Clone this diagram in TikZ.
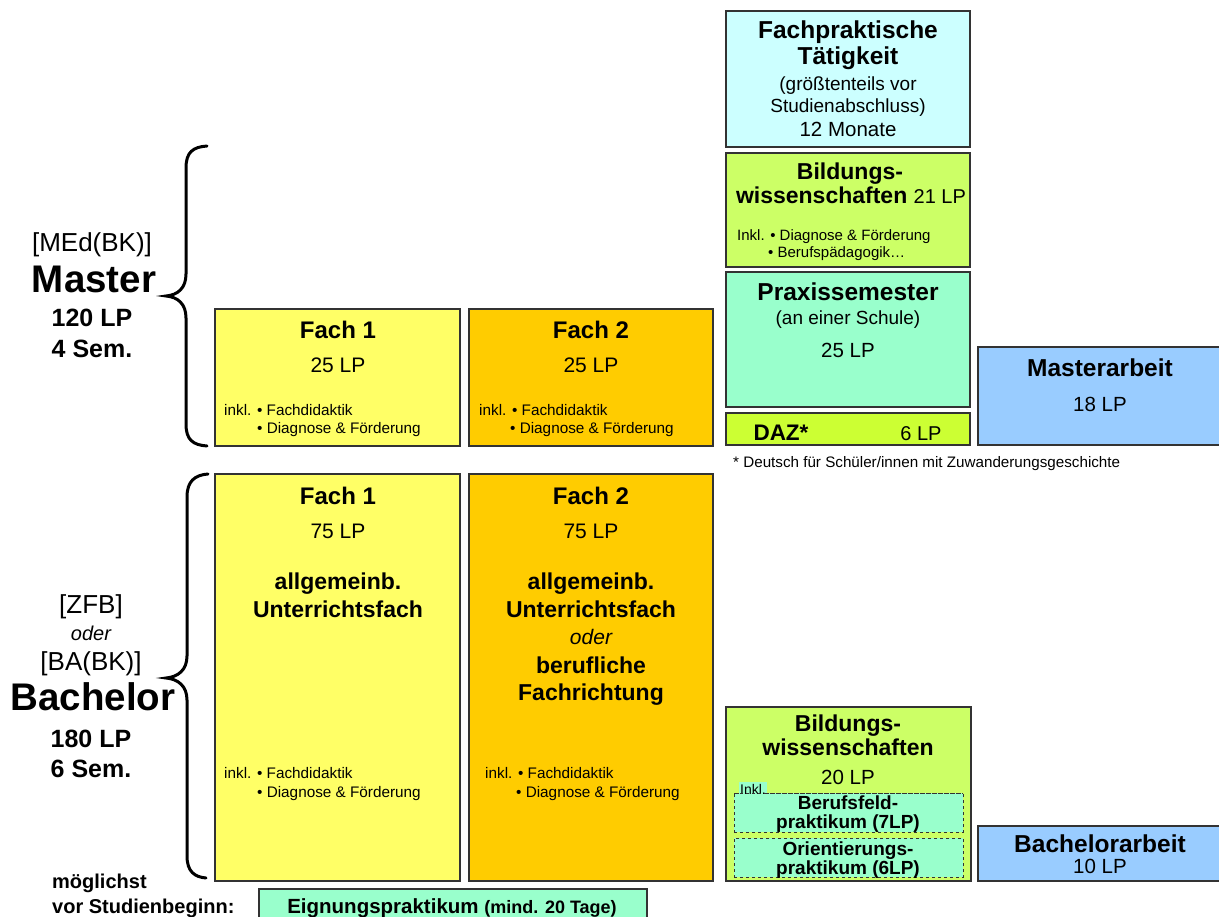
\documentclass[tikz,border=0pt]{standalone}
\usepackage{fontspec}
\setmainfont{Liberation Sans}
\newcommand\myfs[1]{\fontsize{#1}{#1}\selectfont}
\definecolor{cfach}{HTML}{CCFFFF}
\definecolor{cbild}{HTML}{CCFF66}
\definecolor{cprax}{HTML}{99FFCC}
\definecolor{cdaz}{HTML}{CCFF33}
\definecolor{carb}{HTML}{99CCFF}
\definecolor{cf1}{HTML}{FFFF66}
\definecolor{cf2}{HTML}{FFCC00}
\definecolor{cline}{HTML}{333333}
\tikzset{
  box/.style={draw=cline, line width=1.3pt, inner sep=0pt, outer sep=0pt, anchor=north west},
  dbox/.style={draw=cline, line width=0.9pt, dashed, inner sep=0pt, outer sep=0pt, anchor=north west, fill=cprax},
  tx/.style={anchor=base, inner sep=0pt},
  tl/.style={anchor=base west, inner sep=0pt},
  bracestyle/.style={line width=3pt, line cap=round},
}
\begin{document}
\begin{tikzpicture}[x=1pt,y=-1pt]
\useasboundingbox (0,0) rectangle (1219,917);
% ---------- boxes ----------
\node[box, fill=cfach, minimum width=244, minimum height=136] (fpt) at (726,11) {};
\node[box, fill=cbild, minimum width=244, minimum height=114] (bw1) at (726,153) {};
\node[box, fill=cprax, minimum width=244, minimum height=135] (prax) at (726,272) {};
\node[box, fill=cdaz, minimum width=244, minimum height=32] (daz) at (726,413) {};
\node[box, fill=carb, minimum width=250, minimum height=98] (ma) at (978,347) {};
\node[box, fill=cf1, minimum width=245, minimum height=137] (mf1) at (215,309) {};
\node[box, fill=cf2, minimum width=244, minimum height=137] (mf2) at (469,309) {};
\node[box, fill=cf1, minimum width=245, minimum height=407] (bf1) at (215,474) {};
\node[box, fill=cf2, minimum width=244, minimum height=407] (bf2) at (469,474) {};
\node[box, fill=cbild, minimum width=245, minimum height=174] (bw2) at (726,707) {};
\node[dbox, minimum width=229, minimum height=39] (bfp) at (734,793) {};
\node[dbox, minimum width=229, minimum height=39] (orp) at (734,838) {};
\node[box, fill=carb, minimum width=250, minimum height=55] (ba) at (978,826) {};
\node[box, fill=cprax, minimum width=388, minimum height=40] (eig) at (259,889) {};
% ---------- braces ----------
\draw[bracestyle] (207,146) .. controls (193,147) and (186,152) .. (186,168) -- (186,274)
  .. controls (186,288) and (178,295) .. (166,296) .. controls (178,297) and (186,304) .. (186,318)
  -- (186,424) .. controls (186,440) and (193,445) .. (207,446);
\draw[bracestyle] (208,474) .. controls (195,475) and (187,481) .. (187,497) -- (187,656)
  .. controls (187,670) and (178,677) .. (166,678) .. controls (178,679) and (187,686) .. (187,700)
  -- (187,856) .. controls (187,872) and (195,877) .. (206,878);
% ---------- left labels ----------
\node[tx] (medbk) at (92,252) {\myfs{26}[MEd(BK)]};
\node[tx] (master) at (94,293) {\myfs{38.5}\bfseries Master};
\node[tx] (m120) at (92,327) {\myfs{25}\bfseries 120 LP};
\node[tx] (m4) at (92,358) {\myfs{25}\bfseries 4 Sem.};
\node[tx] (zfb) at (91,613) {\myfs{26}[ZFB]};
\node[tx] (oder) at (91,640) {\myfs{20}\itshape oder};
\node[tx] (babk) at (91,670) {\myfs{26}[BA(BK)]};
\node[tx] (bach) at (93,710) {\myfs{38.5}\bfseries Bachelor};
\node[tx] (b180) at (91,747) {\myfs{25}\bfseries 180 LP};
\node[tx] (b6) at (91,777) {\myfs{25}\bfseries 6 Sem.};
\node[tl] (mogl) at (52,888) {\myfs{20}\bfseries möglichst};
\node[tl] (vor) at (52,913) {\myfs{20}\bfseries vor Studienbeginn:};
% ---------- Fachpraktische Taetigkeit ----------
\node[tx] (fpt1) at (848,39) {\myfs{24.5}\bfseries Fachpraktische};
\node[tx] (fpt2) at (848,65) {\myfs{24.5}\bfseries Tätigkeit};
\node[tx] (fpt3) at (848,91) {\myfs{19}(größtenteils vor};
\node[tx] (fpt4) at (848,113) {\myfs{19}Studienabschluss)};
\node[tx] (fpt5) at (848,137) {\myfs{20.5}12 Monate};
% ---------- Bildungswissenschaften 21 ----------
\node[tx] (bw1a) at (850,180) {\myfs{23}\bfseries Bildungs-};
\node[tx] (bw1b) at (851,204) {\myfs{23}\bfseries wissenschaften \mdseries\myfs{20}21 LP};
\node[tl] (bw1c) at (737,241) {\myfs{15}Inkl. • Diagnose \& Förderung};
\node[tl] (bw1d) at (768,258) {\myfs{15}• Berufspädagogik…};
% ---------- Praxissemester ----------
\node[tx] (prx1) at (848,301) {\myfs{24.5}\bfseries Praxissemester};
\node[tx] (prx2) at (848,325) {\myfs{19}(an einer Schule)};
\node[tx] (prx3) at (848,358) {\myfs{20.5}25 LP};
% ---------- DAZ ----------
\node[tx] (daz1) at (781,440) {\myfs{22.5}\bfseries DAZ*};
\node[tx] (daz2) at (921,440) {\myfs{20}6 LP};
\node[tl] (fn) at (733,467) {\myfs{15.2}* Deutsch für Schüler/innen mit Zuwanderungsgeschichte};
% ---------- Masterarbeit ----------
\node[tx] (ma1) at (1100,377) {\myfs{24.5}\bfseries Masterarbeit};
\node[tx] (ma2) at (1100,411) {\myfs{20.5}18 LP};
% ---------- Master Fach 1 / 2 ----------
\node[tx] (mf1a) at (338,339) {\myfs{24}\bfseries Fach 1};
\node[tx] (mf1b) at (338,373) {\myfs{21}25 LP};
\node[tl] (mf1c) at (224,415) {\myfs{15.3}inkl. • Fachdidaktik};
\node[tl] (mf1d) at (257,434) {\myfs{15.3}• Diagnose \& Förderung};
\node[tx] (mf2a) at (591,339) {\myfs{24}\bfseries Fach 2};
\node[tx] (mf2b) at (591,373) {\myfs{21}25 LP};
\node[tl] (mf2c) at (479,415) {\myfs{15.3}inkl. • Fachdidaktik};
\node[tl] (mf2d) at (510,434) {\myfs{15.3}• Diagnose \& Förderung};
% ---------- Bachelor Fach 1 / 2 ----------
\node[tx] (bf1a) at (338,504) {\myfs{24}\bfseries Fach 1};
\node[tx] (bf1b) at (338,538) {\myfs{21}75 LP};
\node[tx] (bf1c) at (338,589) {\myfs{23}\bfseries allgemeinb.};
\node[tx] (bf1d) at (338,617) {\myfs{23}\bfseries Unterrichtsfach};
\node[tl] (bf1e) at (224,778) {\myfs{15.3}inkl. • Fachdidaktik};
\node[tl] (bf1f) at (257,797) {\myfs{15.3}• Diagnose \& Förderung};
\node[tx] (bf2a) at (591,504) {\myfs{24}\bfseries Fach 2};
\node[tx] (bf2b) at (591,538) {\myfs{21}75 LP};
\node[tx] (bf2c) at (591,589) {\myfs{23}\bfseries allgemeinb.};
\node[tx] (bf2d) at (591,617) {\myfs{23}\bfseries Unterrichtsfach};
\node[tx] (bf2e) at (591,644) {\myfs{21}\itshape oder};
\node[tx] (bf2f) at (591,673) {\myfs{23}\bfseries berufliche};
\node[tx] (bf2g) at (591,700) {\myfs{23}\bfseries Fachrichtung};
\node[tl] (bf2h) at (485,778) {\myfs{15.3}inkl. • Fachdidaktik};
\node[tl] (bf2i) at (516,797) {\myfs{15.3}• Diagnose \& Förderung};
% ---------- Bildungswissenschaften 20 ----------
\node[tx] (bw2a) at (848,731) {\myfs{23}\bfseries Bildungs-};
\node[tx] (bw2b) at (848,755) {\myfs{23}\bfseries wissenschaften};
\node[tx] (bw2c) at (848,784) {\myfs{20.5}20 LP};
\node[anchor=base west, fill=cprax, inner xsep=1pt, inner ysep=2pt] (inkl) at (739,794) {\myfs{14}Inkl.};
\draw[line width=0.9pt, dashed, draw=cline] (bfp.north west) -- (bfp.north east);
\node[tx] (bfp1) at (848,809) {\myfs{19}\bfseries Berufsfeld-};
\node[tx] (bfp2) at (848,828) {\myfs{19}\bfseries praktikum (7LP)};
\node[tx] (orp1) at (848,855) {\myfs{19}\bfseries Orientierungs-};
\node[tx] (orp2) at (848,874) {\myfs{19}\bfseries praktikum (6LP)};
% ---------- Bachelorarbeit ----------
\node[tx] (ba1) at (1100,852) {\myfs{24.5}\bfseries Bachelorarbeit};
\node[tx] (ba2) at (1100,873) {\myfs{20.5}10 LP};
% ---------- Eignungspraktikum ----------
\node[tx] (eig1) at (452,913) {\myfs{20.5}\bfseries Eignungspraktikum \myfs{18}(mind. 20 Tage)};
\end{tikzpicture}
\end{document}
